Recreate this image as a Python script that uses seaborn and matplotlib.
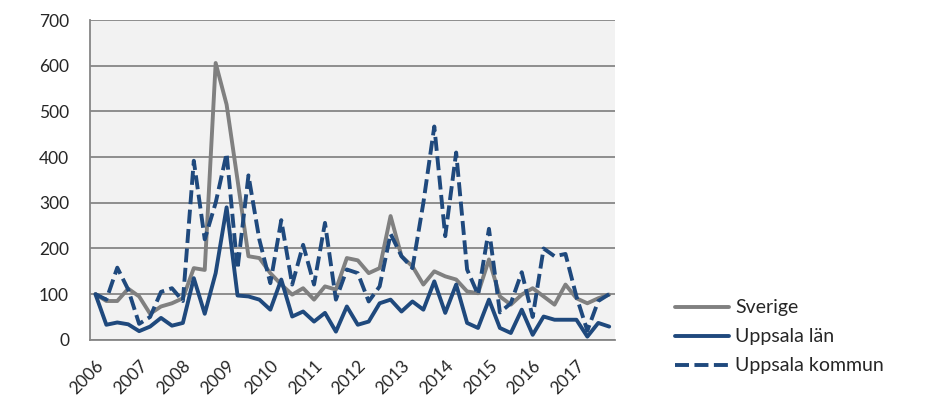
import pandas as pd
import matplotlib.pyplot as plt
import seaborn as sns

# quarterly index, 2006 Q1 - 2017 Q4
years = list(range(2006, 2018))
sverige = [100, 85, 85, 112, 95, 57, 73, 80, 91, 157, 153, 606,
           515, 350, 183, 179, 146, 121, 99, 113, 88, 117, 110, 179,
           174, 146, 157, 271, 183, 161, 121, 150, 139, 132, 106, 102,
           176, 95, 77, 99, 113, 95, 77, 121, 91, 80, 91, 99]
uppsala_lan = [100, 33, 38, 34, 19, 29, 48, 31, 37, 135, 57, 146,
               290, 97, 95, 88, 66, 132, 51, 62, 40, 59, 18, 73,
               33, 40, 80, 88, 62, 84, 66, 128, 59, 121, 37, 26,
               88, 26, 15, 66, 11, 51, 44, 44, 44, 7, 37, 29]
uppsala_kommun = [100, 88, 158, 110, 35, 50, 105, 113, 85, 392, 220, 300,
                  408, 155, 360, 219, 124, 262, 121, 208, 121, 256, 88, 154,
                  146, 84, 117, 232, 183, 157, 300, 467, 227, 410, 154, 99,
                  243, 60, 80, 148, 50, 200, 183, 188, 95, 20, 85, 100]
series_names = ["Sverige", "Uppsala län", "Uppsala kommun"]

q = list(range(len(sverige)))
df = pd.DataFrame({"q": q * 3,
                   "value": sverige + uppsala_lan + uppsala_kommun,
                   "series": [n for n in series_names for _ in q]})

sns.set_style("white", {"axes.facecolor": "#F2F2F2"})
plt.rcParams['font.family'] = ['Lato', 'DejaVu Sans']

fig = plt.figure(figsize=(9.37, 4.18), dpi=100)
ax = fig.add_axes([0.096, 0.187, 0.56, 0.765])

palette = {"Sverige": "#808080", "Uppsala län": "#1F497D", "Uppsala kommun": "#1F497D"}
dashes = {"Sverige": "", "Uppsala län": "", "Uppsala kommun": (3.6, 1.4)}
sns.lineplot(data=df, x="q", y="value", hue="series", style="series",
             palette=palette, dashes=dashes, linewidth=2.8, ax=ax, legend=True)

ax.set_xlim(-0.5, len(q) - 0.5)
ax.set_ylim(0, 700)
ax.set_yticks(range(0, 701, 100))
ax.yaxis.grid(True, color="#868686", linewidth=1.3)
ax.set_axisbelow(True)
ax.set_xlabel("")
ax.set_ylabel("")

ax.set_xticks([i - 0.5 for i in range(len(q) + 1)], minor=True)
ax.set_xticks([i * 4 for i in range(len(years))])
ax.set_xticklabels([str(y) for y in years], rotation=45, ha="right",
                   rotation_mode="anchor", fontsize=12.5)
ax.tick_params(axis="x", which="major", length=0, pad=13)
ax.tick_params(axis="x", which="minor", length=5, width=1.2, color="#868686", direction="out")
ax.tick_params(axis="y", length=6, width=1.2, color="#868686", direction="out", labelsize=12.5, pad=9)

for side in ["top", "right"]:
    ax.spines[side].set_visible(False)
for side in ["left", "bottom"]:
    ax.spines[side].set_color("#868686")
    ax.spines[side].set_linewidth(1.3)

handles, labels = ax.get_legend_handles_labels()
ax.legend(handles, labels, loc="center left", bbox_to_anchor=(0.72, 0.194),
          bbox_transform=fig.transFigure, frameon=False, fontsize=14,
          handlelength=2.8, handletextpad=0.3, labelspacing=0.62,
          borderpad=0, borderaxespad=0)

fig.savefig("out.png", dpi=100)
